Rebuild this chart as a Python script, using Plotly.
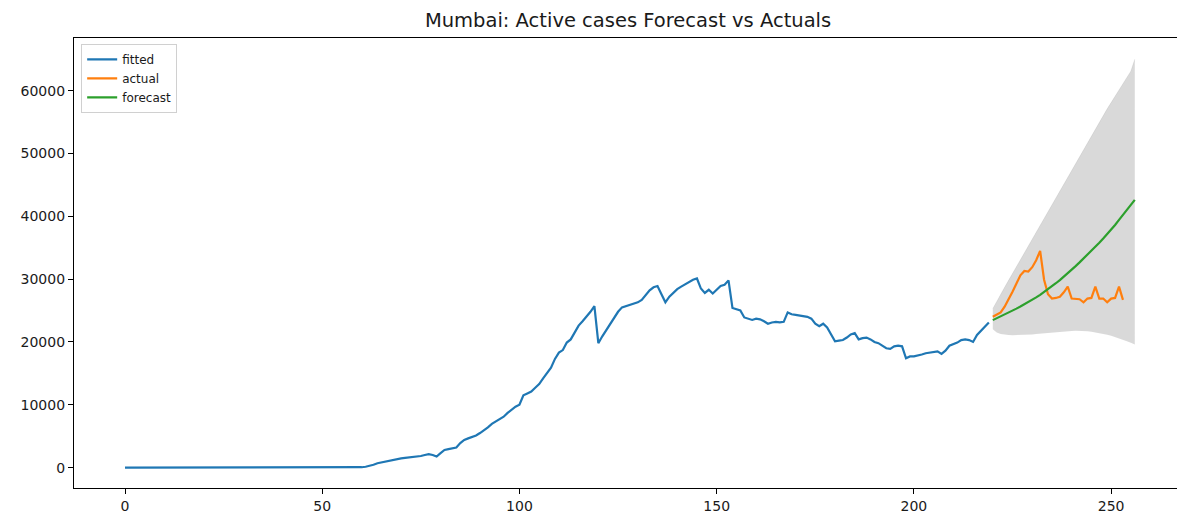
import plotly.graph_objects as go

# ---------------- data ----------------
fitted_x = list(range(0, 220))
fitted_y = [
    0, 0, 0, 0, 0, 0, 0, 0, 0, 0,
    0, 0, 0, 0, 0, 0, 0, 0, 0, 0,
    0, 0, 0, 0, 0, 0, 0, 0, 0, 0,
    0, 0, 0, 0, 0, 0, 0, 0, 0, 0,
    0, 0, 0, 0, 0, 0, 0, 0, 0, 0,
    0, 0, 0, 0, 0, 0, 0, 0, 0, 30,
    60, 130, 250, 450, 700, 850, 950, 1050, 1250, 1400,
    1480, 1550, 1600, 1650, 1750, 1850, 2000, 2150, 2000, 1750,
    2300, 2800, 2950, 3100, 3200, 3900, 4400, 4650, 4850, 5100,
    5500, 5900, 6400, 6950, 7300, 7650, 8100, 8700, 9200, 9700,
    10000, 11500, 11800, 12100, 12700, 13300, 14200, 15000, 15900, 17300,
    18300, 18700, 19900, 20400, 21400, 22600, 23300, 24000, 24800, 25700,
    19800, 20900, 21900, 22900, 23800, 24800, 25500, 25700, 25900, 26100,
    26300, 26700, 27500, 28200, 28700, 28900, 27600, 26300, 27200, 27800,
    28400, 28800, 29200, 29500, 29900, 30100, 28500, 27800, 28300, 27700,
    28300, 28900, 29100, 29800, 25400, 25200, 25000, 23900, 23700, 23500,
    23700, 23600, 23300, 22900, 23100, 23200, 23100, 23200, 24700, 24400,
    24300, 24200, 24100, 24000, 23700, 22900, 22500, 22900, 22300, 21300,
    20100, 20200, 20300, 20700, 21200, 21400, 20400, 20600, 20700, 20400,
    20000, 19800, 19400, 19000, 18900, 19300, 19400, 19300, 17400, 17700,
    17700, 17800, 18000, 18200, 18300, 18400, 18500, 18100, 18600, 19400,
    19600, 19900, 20300, 20400, 20300, 20000, 21100, 21800, 22500, 23100,
]

actual_x = list(range(220, 254))
actual_y = [
    24000, 24300, 24700, 25600, 26700, 28000, 29300, 30600, 31300, 31200,
    31900, 33000, 34500, 29900, 27600, 26900, 27000, 27200, 27900, 28800,
    26900, 26900, 26800, 26300, 26900, 27000, 28800, 26900, 26900, 26300,
    26900, 27000, 28800, 26700,
]

forecast_x = list(range(220, 257))
forecast_y = [
    23470, 23760, 24060, 24360, 24640, 24960, 25300, 25640, 25980, 26320,
    26700, 27090, 27490, 27920, 28370, 28840, 29340, 29850, 30380, 30920,
    31480, 32070, 32660, 33260, 33870, 34490, 35130, 35790, 36460, 37140,
    37830, 38620, 39420, 40230, 41050, 41800, 42600,
]
upper_y = [
    25300, 26500, 27600, 28700, 29800, 30900, 32000, 33100, 34200, 35300,
    36400, 37500, 38600, 39700, 40800, 41900, 43000, 44100, 45200, 46300,
    47400, 48500, 49600, 50700, 51800, 52900, 54000, 55100, 56100, 57100,
    58100, 59100, 60100, 61100, 62100, 63100, 65000,
]
lower_y = [
    22000, 21500, 21250, 21150, 21100, 21080, 21080, 21100, 21120, 21150,
    21200, 21250, 21320, 21380, 21450, 21500, 21560, 21620, 21680, 21720,
    21760, 21780, 21780, 21750, 21700, 21630, 21540, 21430, 21300, 21150,
    20980, 20790, 20580, 20360, 20120, 19870, 19600,
]

x_ticks = [0, 50, 100, 150, 200, 250]
y_ticks = [0, 10000, 20000, 30000, 40000, 50000, 60000]
title_text = "Mumbai: Active cases Forecast vs Actuals"

# ---------------- figure ----------------
fig = go.Figure()

# confidence band
fig.add_trace(go.Scatter(x=forecast_x, y=lower_y, mode="lines",
                         line=dict(width=0, color="rgba(0,0,0,0)"),
                         showlegend=False, hoverinfo="skip"))
fig.add_trace(go.Scatter(x=forecast_x, y=upper_y, mode="lines",
                         line=dict(width=0.6, color="rgba(0,0,0,0.12)"),
                         fill="tonexty", fillcolor="rgba(0,0,0,0.15)",
                         showlegend=False, hoverinfo="skip"))

fig.add_trace(go.Scatter(x=fitted_x, y=fitted_y, mode="lines", name="fitted",
                         line=dict(color="#1f77b4", width=2.2)))
fig.add_trace(go.Scatter(x=actual_x, y=actual_y, mode="lines", name="actual",
                         line=dict(color="#ff7f0e", width=2.2)))
fig.add_trace(go.Scatter(x=forecast_x, y=forecast_y, mode="lines", name="forecast",
                         line=dict(color="#2ca02c", width=2.2)))

font_family = "DejaVu Sans, Liberation Sans, sans-serif"

fig.update_layout(
    width=1177, height=515,
    margin=dict(l=74, r=0, t=38, b=27),
    paper_bgcolor="white", plot_bgcolor="white",
    font=dict(family=font_family, size=14, color="#1a1a1a"),
    title=dict(text=title_text, xref="container", yref="container",
               x=0.5336, y=0.961, xanchor="center", yanchor="middle",
               font=dict(size=19.5, color="#1a1a1a", family=font_family)),
    showlegend=True,
    legend=dict(x=0.0065, y=0.987, xanchor="left", yanchor="top",
                traceorder="normal",
                bgcolor="white", bordercolor="#d0d0d0", borderwidth=1,
                font=dict(size=12, color="#1a1a1a", family=font_family),
                tracegroupgap=0, itemwidth=30),
)

fig.update_xaxes(
    range=[-12.93, 266.7], tickmode="array", tickvals=x_ticks,
    ticktext=[str(v) for v in x_ticks],
    showgrid=False, zeroline=False,
    showline=True, linecolor="black", linewidth=1.3, mirror=True,
    ticks="outside", ticklen=5, tickwidth=1.2, tickcolor="black",
    tickfont=dict(size=14, color="#1a1a1a"),
)
fig.update_yaxes(
    range=[-3247, 68373], tickmode="array", tickvals=y_ticks,
    ticktext=[str(v) for v in y_ticks],
    showgrid=False, zeroline=False,
    showline=True, linecolor="black", linewidth=1.3, mirror=False,
    ticks="outside", ticklen=5, tickwidth=1.2, tickcolor="black",
    tickfont=dict(size=14, color="#1a1a1a"),
)

fig.write_html(
    "out.html",
    config={"displayModeBar": False},
    post_script="document.body.style.margin='0';document.body.style.overflow='hidden';",
)
